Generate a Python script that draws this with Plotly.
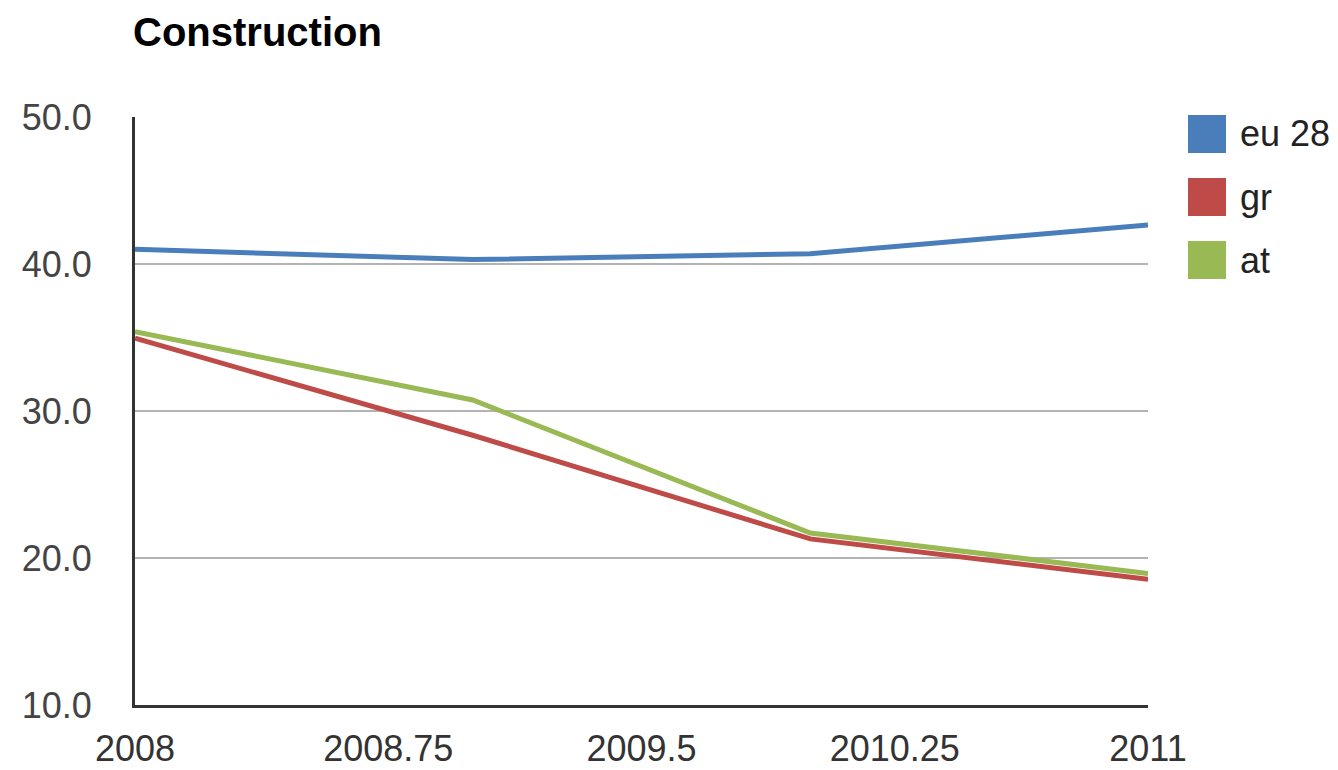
import plotly.graph_objects as go

years = [2008, 2009, 2010, 2011]
eu28 = [41.0, 40.3, 40.7, 42.65]
gr = [34.95, 28.35, 21.3, 18.55]
at = [35.4, 30.75, 21.7, 18.95]

series_names = ["eu 28", "gr", "at"]
series_values = [eu28, gr, at]
series_colors = ["#4a7ebb", "#be4b48", "#98b954"]

x_tickvals = [2008, 2008.75, 2009.5, 2010.25, 2011]
x_ticktext = ["2008", "2008.75", "2009.5", "2010.25", "2011"]
y_tickvals = [10, 20, 30, 40, 50]
y_ticktext = ["10.0", "20.0", "30.0", "40.0", "50.0"]

# page body has an 8px margin, so the figure is laid out 8px smaller
OFF = 8
W, H = 1338 - OFF, 770 - OFF
L, R, T, B = 135 - OFF, 190, 117 - OFF, 65
pw, ph = 1013, 588

fig = go.Figure()
for name, vals, col in zip(series_names, series_values, series_colors):
    fig.add_trace(go.Scatter(x=years, y=vals, mode="lines", name=name,
                             line=dict(color=col, width=5), showlegend=False))

# legend: squares + labels (target pixel positions -> paper coordinates)
shapes = []
annotations = []
sq_top = [115, 178, 241]
for i, (name, col) in enumerate(zip(series_names, series_colors)):
    y0 = sq_top[i]
    y1 = y0 + 38
    shapes.append(dict(type="rect", xref="paper", yref="paper",
                       x0=(1188 - 135) / pw, x1=(1226 - 135) / pw,
                       y0=(705 - y1) / ph, y1=(705 - y0) / ph,
                       fillcolor=col, line=dict(width=0)))
    annotations.append(dict(xref="paper", yref="paper",
                            x=(1238 - 135) / pw, y=(705 - (y0 + 19)) / ph,
                            xanchor="left", yanchor="middle", showarrow=False,
                            text=name, font=dict(family="Liberation Sans, Arial", size=36, color="#222222")))

fig.update_layout(
    width=W, height=H, autosize=False,
    margin=dict(l=L, r=R, t=T, b=B, pad=0),
    paper_bgcolor="white", plot_bgcolor="white",
    title=dict(text="<b>Construction</b>", x=(133 - OFF) / W, xanchor="left",
               y=1 - (32 - OFF) / H, yanchor="middle", xref="container", yref="container",
               font=dict(family="Liberation Sans, Arial", size=40, color="#000000")),
    xaxis=dict(range=[2008, 2011], tickvals=x_tickvals, ticktext=x_ticktext,
               showgrid=False, zeroline=False, showline=True, linecolor="#333333",
               linewidth=3, ticks="", ticklabelstandoff=10, automargin=False,
               tickfont=dict(family="Liberation Sans, Arial", size=36, color="#333333")),
    yaxis=dict(range=[10, 50], tickvals=y_tickvals, ticktext=y_ticktext,
               showgrid=True, gridcolor="#b3b3b3", gridwidth=2, zeroline=False,
               showline=True, linecolor="#333333", linewidth=3, ticks="",
               ticklabelstandoff=33, automargin=False,
               tickfont=dict(family="Liberation Sans, Arial", size=36, color="#444444")),
    shapes=shapes, annotations=annotations, showlegend=False,
)

fig.write_html("out.html")
